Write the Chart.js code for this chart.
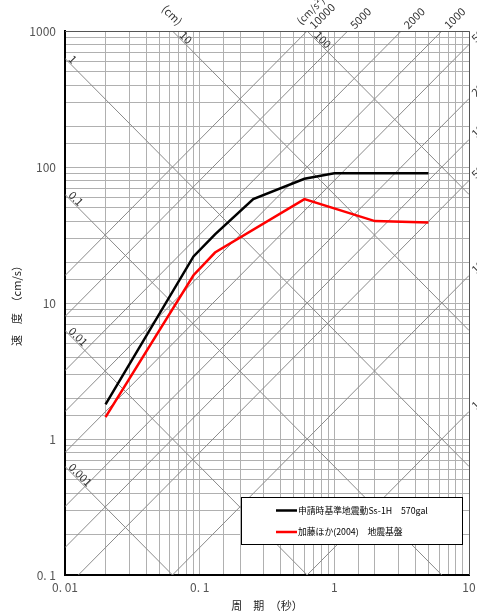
<!DOCTYPE html>
<html>
<head>
<meta charset="utf-8">
<script src="https://cdn.jsdelivr.net/npm/chart.js@4.4.1/dist/chart.umd.min.js"></script>
<style>
  html, body { margin: 0; padding: 0; background: #fff; }
</style>
</head>
<body>
<canvas id="spectrumChart" width="477" height="616"></canvas>
<script>
// Series (period in s, pseudo velocity in cm/s)
const seriesNames = ['申請時基準地震動Ss-1H　570gal', '加藤ほか(2004)　地震基盤'];
const periodsSs = [0.02, 0.09, 0.13, 0.25, 0.6, 1.0, 5.0];
const velocitySs = [1.8, 22, 32, 58, 82, 90, 90];
const periodsKato = [0.02, 0.09, 0.13, 0.6, 2.0, 5.0];
const velocityKato = [1.45, 16, 23.5, 58, 40, 39];

// Tripartite guide lines
const dispLines = [0.001, 0.01, 0.1, 1, 10, 100];                      // cm
const accLines = [1, 10, 50, 100, 200, 500, 1000, 2000, 5000, 10000];  // cm/s2

// Tick labels (decades only)
const xTicks = [0.01, 0.1, 1, 10];
const xTickText = ['0. 01', '0. 1', '1', '10'];
const yTicks = [0.1, 1, 10, 100, 1000];
const yTickText = ['0. 1', '1', '10', '100', '1000'];

const black = '#000000';
const red = '#ff0000';
const gridGray = '#b0b0b0';
const guideGray = '#8a8a8a';
const labelFont = '"Noto Sans CJK JP", "Noto Sans", sans-serif';

function tickLabel(ticks, texts, value) {
    const i = ticks.findIndex(t => Math.abs(Math.log10(t) - Math.log10(value)) < 1e-6);
    return i >= 0 ? texts[i] : '';
}

function toPoints(xs, ys) {
    return xs.map((t, i) => ({ x: t, y: ys[i] }));
}

// guide lines, frame, rotated labels and the legend box
const overlay = {
    id: 'overlay',
    beforeDatasetsDraw(chart) {
        const { ctx, chartArea: a, scales: { x, y } } = chart;
        ctx.save();
        ctx.beginPath();
        ctx.rect(a.left, a.top, a.right - a.left, a.bottom - a.top);
        ctx.clip();
        ctx.strokeStyle = guideGray;
        ctx.lineWidth = 1;
        dispLines.forEach(d => {
            ctx.beginPath();
            ctx.moveTo(x.getPixelForValue(x.min), y.getPixelForValue(2 * Math.PI * d / x.min));
            ctx.lineTo(x.getPixelForValue(x.max), y.getPixelForValue(2 * Math.PI * d / x.max));
            ctx.stroke();
        });
        accLines.forEach(acc => {
            ctx.beginPath();
            ctx.moveTo(x.getPixelForValue(x.min), y.getPixelForValue(acc * x.min / (2 * Math.PI)));
            ctx.lineTo(x.getPixelForValue(x.max), y.getPixelForValue(acc * x.max / (2 * Math.PI)));
            ctx.stroke();
        });
        ctx.restore();

        // frame
        ctx.save();
        ctx.strokeStyle = '#555';
        ctx.lineWidth = 1;
        ctx.beginPath();
        ctx.moveTo(a.left, a.top + 0.5);
        ctx.lineTo(a.right + 0.5, a.top + 0.5);
        ctx.lineTo(a.right + 0.5, a.bottom);
        ctx.stroke();
        ctx.restore();
    },
    afterDraw(chart) {
        const { ctx, chartArea: a, scales: { x, y } } = chart;
        ctx.save();
        ctx.fillStyle = '#333';
        ctx.font = '11px ' + labelFont;
        ctx.textBaseline = 'middle';

        // displacement labels, text along the descending lines
        dispLines.forEach(d => {
            const vLeft = 2 * Math.PI * d / x.min;
            let px, py, along;
            if (vLeft <= y.max) {
                px = a.left; py = y.getPixelForValue(vLeft); along = 3;
            } else {
                px = x.getPixelForValue(2 * Math.PI * d / y.max); py = a.top; along = 8;
            }
            ctx.save();
            ctx.translate(px, py);
            ctx.rotate(Math.PI / 4);
            ctx.textAlign = 'left';
            ctx.fillText(String(d), along, -5);
            if (d === 10) {
                ctx.textAlign = 'right';
                ctx.fillText('(cm)', 0, -11);
            }
            ctx.restore();
        });

        // acceleration labels, text along the ascending lines
        accLines.forEach(acc => {
            const vRight = acc * x.max / (2 * Math.PI);
            let px, py;
            if (vRight > y.max) {
                px = x.getPixelForValue(2 * Math.PI * y.max / acc); py = a.top;
            } else {
                px = a.right; py = y.getPixelForValue(vRight);
            }
            ctx.save();
            ctx.translate(px, py);
            ctx.rotate(-Math.PI / 4);
            ctx.textAlign = 'left';
            ctx.fillText(String(acc), 6, 0);
            if (acc === 10000) {
                ctx.font = '10px ' + labelFont;
                ctx.fillText('(cm/s²)', 0, -12);
            }
            ctx.restore();
        });

        // legend box
        const bx = 241.5, by = 497.5, bw = 221, bh = 47;
        ctx.fillStyle = '#fff';
        ctx.fillRect(bx, by, bw, bh);
        ctx.strokeStyle = '#000';
        ctx.lineWidth = 1;
        ctx.strokeRect(bx, by, bw, bh);
        ctx.font = '8.8px ' + labelFont;
        ctx.textAlign = 'left';
        chart.data.datasets.forEach((ds, i) => {
            const ly = 510.5 + i * 21.5;
            ctx.strokeStyle = ds.borderColor;
            ctx.lineWidth = 2.5;
            ctx.beginPath();
            ctx.moveTo(276, ly);
            ctx.lineTo(297, ly);
            ctx.stroke();
            ctx.fillStyle = '#000';
            ctx.fillText(ds.label, 298, ly);
        });
        ctx.restore();
    }
};

const ctx = document.getElementById('spectrumChart').getContext('2d');
new Chart(ctx, {
    type: 'line',
    data: {
        datasets: [{
            label: seriesNames[0],
            data: toPoints(periodsSs, velocitySs),
            borderColor: black,
            borderWidth: 2.5,
            pointRadius: 0,
            tension: 0
        }, {
            label: seriesNames[1],
            data: toPoints(periodsKato, velocityKato),
            borderColor: red,
            borderWidth: 2.5,
            pointRadius: 0,
            tension: 0
        }]
    },
    options: {
        responsive: false,
        animation: false,
        devicePixelRatio: 1,
        layout: { padding: { top: 31, right: 8, left: 0, bottom: 0 } },
        plugins: { legend: { display: false }, tooltip: { enabled: false } },
        scales: {
            x: {
                type: 'logarithmic',
                min: 0.01, max: 10,
                afterFit: s => { s.height = 41; s.paddingLeft = 0; s.paddingRight = 0; },
                grid: { color: gridGray, drawTicks: false },
                border: { color: black, width: 2 },
                ticks: {
                    autoSkip: false, maxRotation: 0, padding: 5,
                    color: '#555', font: { size: 12, family: labelFont },
                    callback: v => tickLabel(xTicks, xTickText, v)
                },
                title: {
                    display: true, text: '周　期　（秒）', color: '#222',
                    font: { size: 11, family: labelFont }, padding: { top: 0, bottom: 4 }
                }
            },
            y: {
                type: 'logarithmic',
                min: 0.1, max: 1000,
                afterFit: s => { s.width = 65; s.paddingTop = 0; s.paddingBottom = 0; },
                grid: { color: gridGray, drawTicks: false },
                border: { color: black, width: 2 },
                ticks: {
                    autoSkip: false, padding: 9,
                    color: '#555', font: { size: 12, family: labelFont },
                    callback: v => tickLabel(yTicks, yTickText, v)
                },
                title: {
                    display: true, text: '速　度　（cm/s）', color: '#222',
                    font: { size: 11, family: labelFont }, padding: { top: 10, bottom: 0 }
                }
            }
        }
    },
    plugins: [overlay]
});
</script>
</body>
</html>
